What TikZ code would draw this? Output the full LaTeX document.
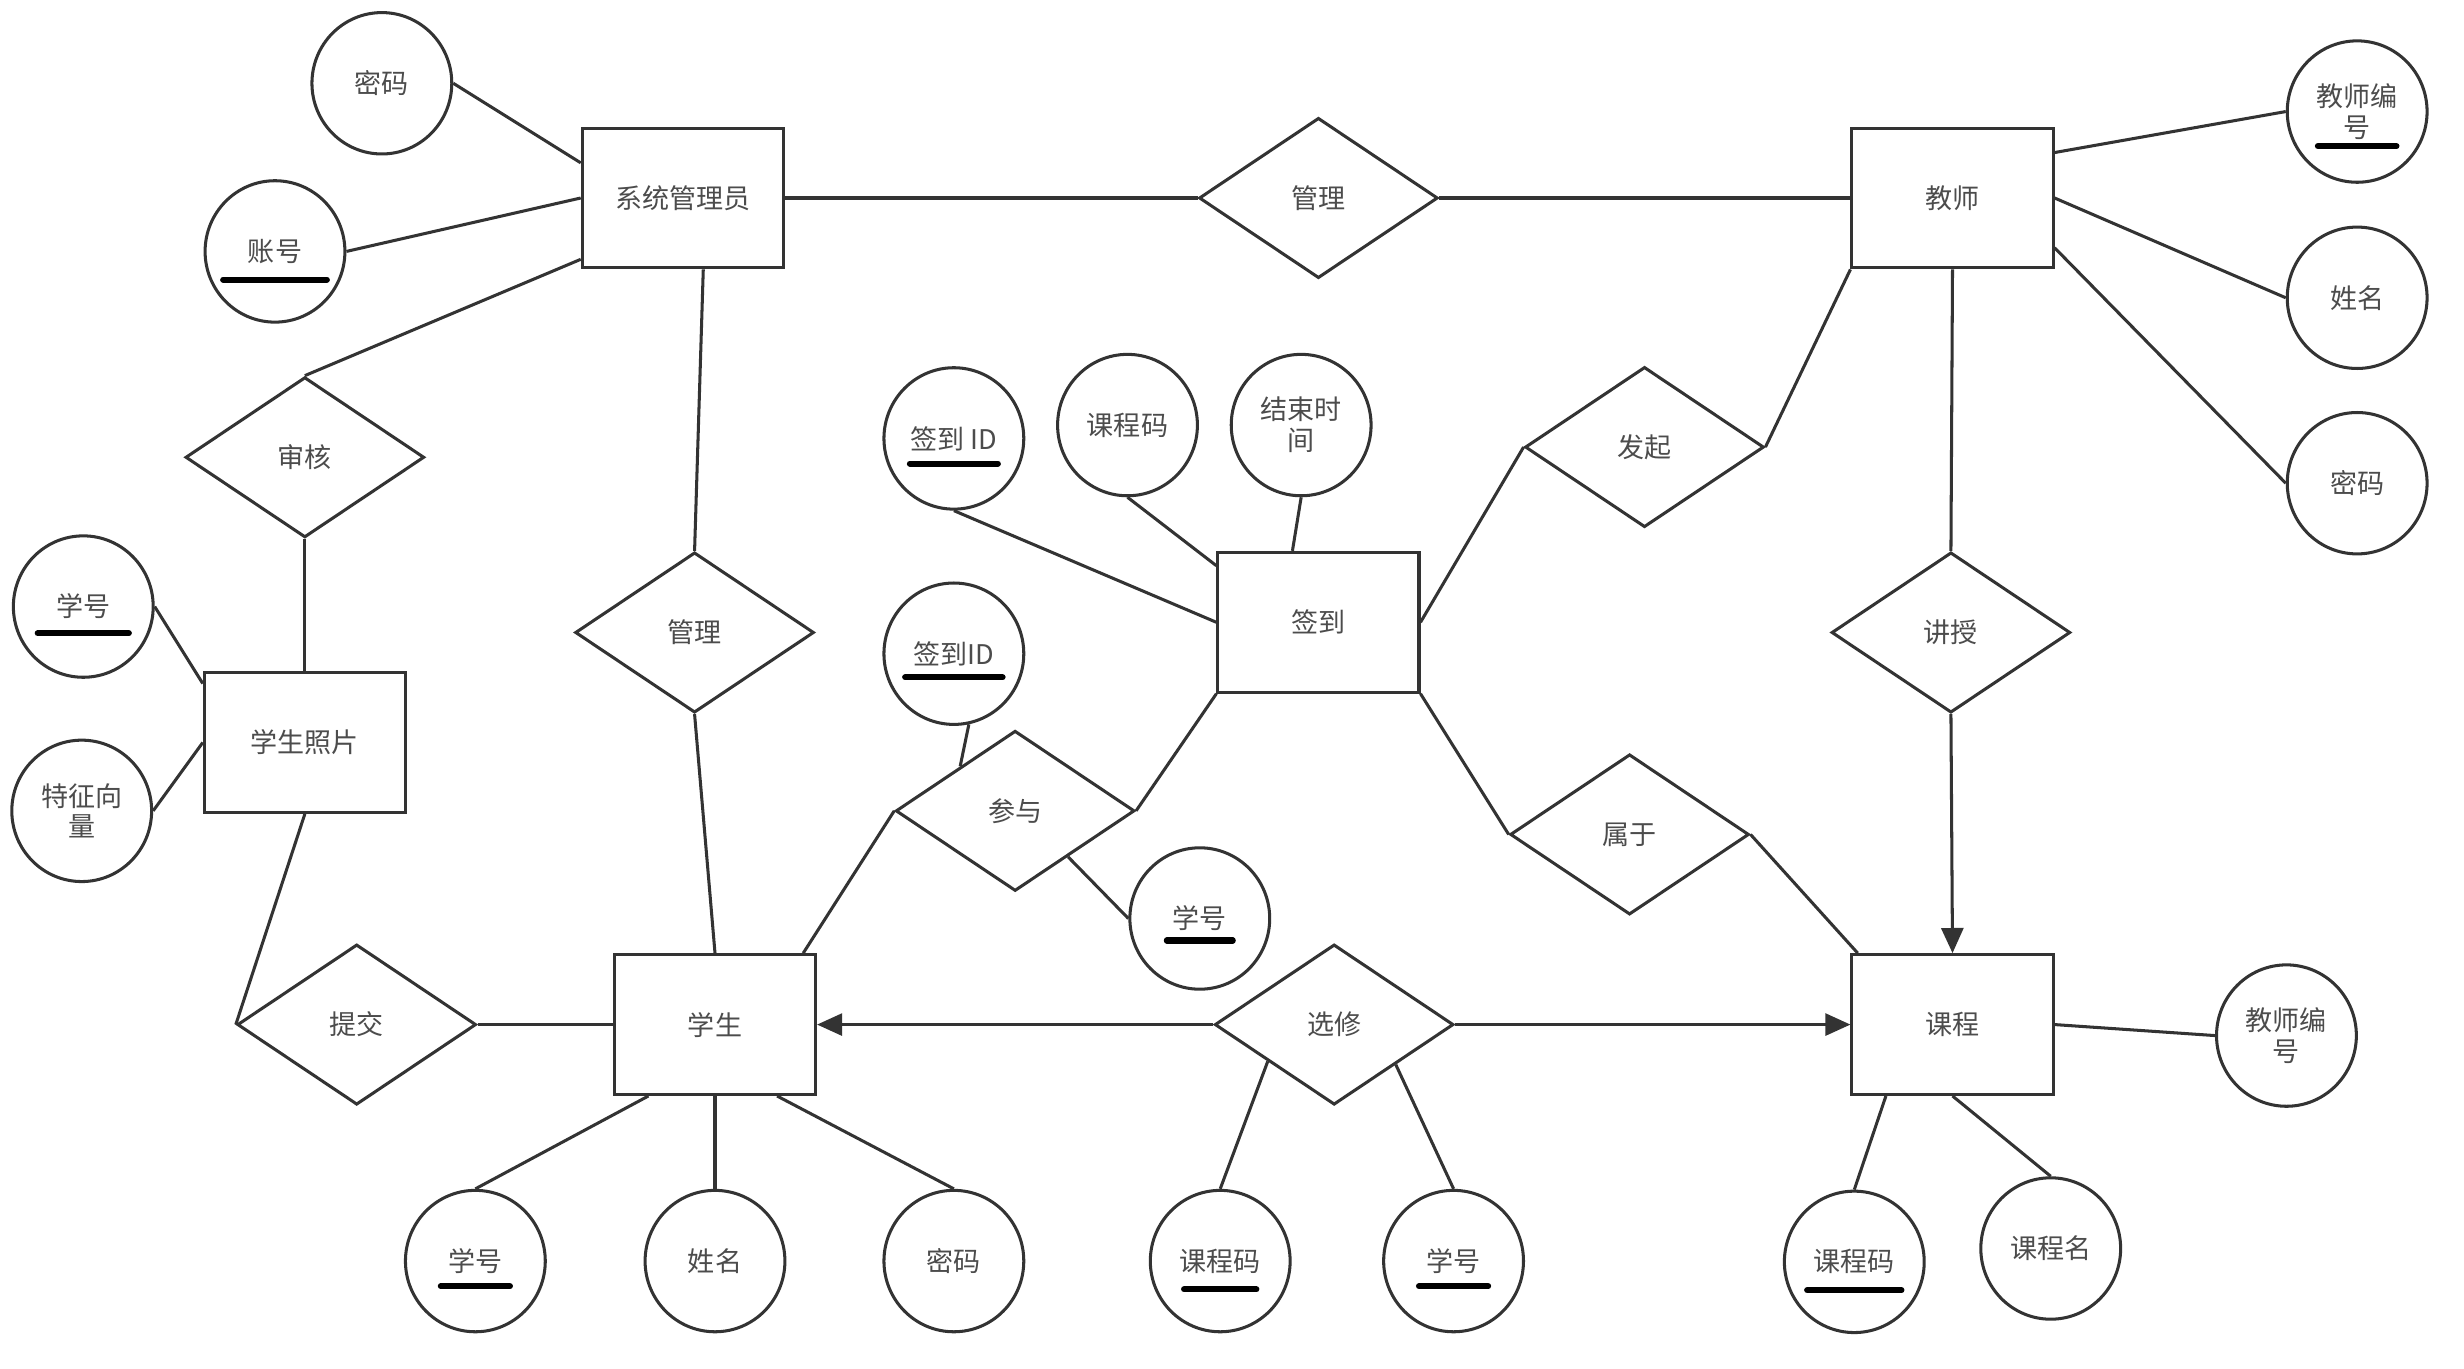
\documentclass[tikz,border=0pt]{standalone}
\usepackage{fontspec}
\newfontfamily\cjk{Noto Sans CJK SC}
\usepackage{tikz}
\usetikzlibrary{arrows.meta}
\usetikzlibrary{shapes.geometric}

\begin{document}
\begin{tikzpicture}[x=0.02cm, y=-0.02cm, auto, >={Triangle[length=3.2mm,width=2.8mm]}]
	\tikzstyle{main}=[draw=black!80, line width=1.1pt, text=black!70, font=\cjk\fontsize{9.8}{11.2}\selectfont, align=center, inner sep=0pt]
	\tikzstyle{entity}=[main, rectangle, minimum width=2.56cm, minimum height=1.78cm]
	\tikzstyle{rel}=[main, diamond, minimum width=3.04cm, minimum height=2.04cm]
	\tikzstyle{attr}=[main, ellipse, minimum width=1.78cm, minimum height=1.8cm]
	\tikzstyle{connect}=[line width=1.1pt, draw=black!80]
	\tikzstyle{arrow}=[connect, ->]
	\tikzset{pk/.style 2 args={path picture={\draw[line width=2.2pt, line cap=round, black] ([shift={(-#1,#2)}]path picture bounding box.center) -- ++(2*#1,0);}}}
	\useasboundingbox (0,0) rectangle (1568,871);
	% entities
	\node[entity] (admin) at (434.5,126) {系统管理员};
	\node[entity] (teacher) at (1242.5,126) {教师};
	\node[entity] (sign) at (839,396) {签到};
	\node[entity] (photo) at (194,472.5) {学生照片};
	\node[entity] (stu) at (455,652) {学生};
	\node[entity] (course) at (1242.5,652) {课程};
	% relations
	\node[rel] (manage1) at (839,126) {管理};
	\node[rel] (audit) at (194,291) {审核};
	\node[rel] (manage2) at (442,402.5) {管理};
	\node[rel] (launch) at (1046.5,284.5) {发起};
	\node[rel] (teach) at (1241.5,402.5) {讲授};
	\node[rel] (join) at (646,516) {参与};
	\node[rel] (belong) at (1037,531) {属于};
	\node[rel] (submit) at (227,652) {提交};
	\node[rel] (elect) at (849,652) {选修};
	% attributes
	\node[attr] (admin_pw) at (243,53) {密码};
	\node[attr, pk={33}{18}] (admin_id) at (175,160) {账号};
	\node[attr, pk={29}{17}] (photo_sid) at (53,386) {学号};
	\node[attr] (photo_vec) at (52,516) {特征向\\量};
	\node[attr, pk={28}{16}] (sign_id) at (607,279) {签到 ID};
	\node[attr] (sign_cc) at (717.5,270.5) {课程码};
	\node[attr] (sign_end) at (828,270.5) {结束时\\间};
	\node[attr, pk={31}{15}] (join_sign) at (607,416) {签到ID};
	\node[attr, pk={21}{14}] (join_sid) at (763.5,584.5) {学号};
	\node[attr, pk={22}{16}] (stu_sid) at (302.5,802.5) {学号};
	\node[attr] (stu_name) at (455,802.5) {姓名};
	\node[attr] (stu_pw) at (607,802.5) {密码};
	\node[attr, pk={23}{18}] (elect_cc) at (776.5,802.5) {课程码};
	\node[attr, pk={22}{16}] (elect_sid) at (925,802.5) {学号};
	\node[attr, pk={30}{18}] (course_cc) at (1180,803) {课程码};
	\node[attr] (course_name) at (1305,794.5) {课程名};
	\node[attr] (course_tid) at (1455,659) {教师编\\号};
	\node[attr, pk={25}{22}] (teacher_tid) at (1500,71) {教师编\\号};
	\node[attr] (teacher_name) at (1500,189.5) {姓名};
	\node[attr] (teacher_pw) at (1500,307.5) {密码};
	\path
	(admin_pw.east) edge [connect] (admin.161)
	(admin_id.east) edge [connect] (admin.west)
	(admin.211) edge [connect] (audit.north)
	(audit.south) edge [connect] (photo.north)
	(photo_sid.east) edge [connect] (photo.150)
	(photo_vec.east) edge [connect] (photo.west)
	(photo.south) edge [connect] (submit.west)
	(submit.east) edge [connect] (stu.west)
	(admin.-74) edge [connect] (manage2.north)
	(manage2.south) edge [connect] (stu.north)
	(admin.east) edge [connect] (manage1.west)
	(manage1.east) edge [connect] (teacher.west)
	(sign_id.south) edge [connect] (sign.west)
	(sign_cc.south) edge [connect] (sign.151)
	(sign_end.south) edge [connect] (sign.110)
	(join_sign.-78) edge [connect] (join.141)
	(join.-41) edge [connect] (join_sid.west)
	(stu.39) edge [connect] (join.west)
	(join.east) edge [connect] (sign.south west)
	(sign.east) edge [connect] (launch.west)
	(launch.east) edge [connect] (teacher.south west)
	(sign.south east) edge [connect] (belong.west)
	(belong.east) edge [connect] (course.143)
	(teacher.south) edge [connect] (teach.north)
	(teach.south) edge [arrow] (course.north)
	(elect.west) edge [arrow] (stu.east)
	(elect.east) edge [arrow] (course.west)
	(elect.209) edge [connect] (elect_cc.north)
	(elect.-33) edge [connect] (elect_sid.north)
	(stu.227) edge [connect] (stu_sid.north)
	(stu.south) edge [connect] (stu_name.north)
	(stu.-49) edge [connect] (stu_pw.north)
	(course.227) edge [connect] (course_cc.north)
	(course.south) edge [connect] (course_name.north)
	(course.east) edge [connect] (course_tid.west)
	(teacher.24) edge [connect] (teacher_tid.west)
	(teacher.east) edge [connect] (teacher_name.west)
	(teacher.-26) edge [connect] (teacher_pw.west)
	;
\end{tikzpicture}
\end{document}
